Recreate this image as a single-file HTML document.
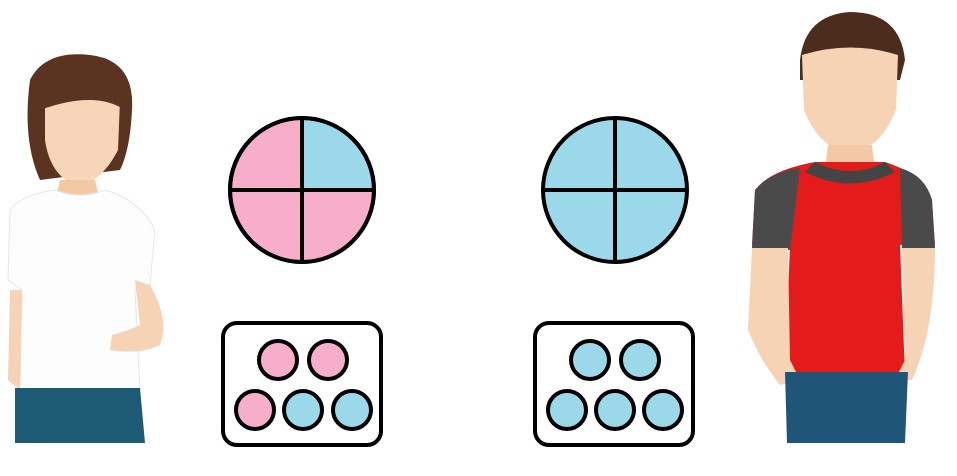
<!DOCTYPE html>
<html><head><meta charset="utf-8"><style>html,body{margin:0;padding:0;background:#fff;overflow:hidden}svg{display:block}</style></head>
<body>
<svg width="957" height="476" viewBox="0 0 957 476" xmlns="http://www.w3.org/2000/svg">
<g>
  <path d="M30 80 Q45 50 90 55 Q135 60 132 110 Q130 150 120 170 L40 180 Q22 140 30 80Z" fill="#5b3321"/>
  <path d="M45 95 Q80 85 120 100 L118 150 Q100 185 75 185 Q50 175 45 140Z" fill="#f7d5b8"/>
  <path d="M30 80 Q60 60 110 70 Q125 90 125 110 Q95 90 40 110Z" fill="#5b3321"/>
  <path d="M60 180 L95 180 L100 200 L55 200Z" fill="#f3c9a5"/>
  <path d="M10 210 Q20 195 55 190 Q80 200 105 190 Q140 200 155 230 L150 285 L135 290 L140 390 L20 392 L22 290 L8 280Z" fill="#fdfdfd" stroke="#e6e6e6"/>
  <path d="M135 280 L150 285 Q170 320 160 345 Q140 355 110 350 L112 335 Q130 330 140 325Z" fill="#f6d3b5"/>
  <path d="M10 290 L22 290 L20 390 L8 380Z" fill="#f6d3b5"/>
  <path d="M15 388 L140 388 L145 443 L15 443Z" fill="#1d5a73"/>
</g>
<g>
  <path d="M800 60 Q805 15 850 12 Q900 12 905 60 L900 80 L800 80Z" fill="#4c2c1c"/>
  <path d="M802 55 Q850 40 898 55 L896 110 Q880 150 850 152 Q820 150 804 110Z" fill="#f6d3b5"/>
  <path d="M828 145 L872 145 L875 170 L825 170Z" fill="#f3c9a5"/>
  <path d="M755 190 Q770 170 815 162 L885 162 Q925 175 932 200 L935 245 L900 245 L905 375 L785 375 L790 245 L752 245Z" fill="#e31b1b"/>
  <path d="M815 162 Q850 180 885 162 L895 172 Q850 195 805 172Z" fill="#444"/>
  <path d="M755 190 Q770 172 800 168 L790 250 L752 248Z" fill="#4a4a4a"/>
  <path d="M900 168 Q925 175 932 200 L935 248 L902 248Z" fill="#4a4a4a"/>
  <path d="M752 248 L788 248 L790 360 L800 380 L780 385 Q760 360 748 330Z" fill="#f6d3b5"/>
  <path d="M902 248 L935 248 Q935 330 912 380 L895 380 L905 360Z" fill="#f6d3b5"/>
  <path d="M785 372 L908 372 L905 443 L787 443Z" fill="#1f5677"/>
</g>
<g stroke="#000" stroke-width="4">
  <path d="M302 190 L302 118 A72 72 0 0 0 230 190Z" fill="#f7aecb"/>
  <path d="M302 190 L374 190 A72 72 0 0 0 302 118Z" fill="#9bd8ea"/>
  <path d="M302 190 L230 190 A72 72 0 0 0 302 262Z" fill="#f7aecb"/>
  <path d="M302 190 L302 262 A72 72 0 0 0 374 190Z" fill="#f7aecb"/>
  <circle cx="302" cy="190" r="72" fill="none"/>
</g>
<g stroke="#000" stroke-width="4">
  <circle cx="615" cy="190" r="72" fill="#9bd8ea"/>
  <line x1="543" y1="190" x2="687" y2="190"/><line x1="615" y1="118" x2="615" y2="262"/>
</g>
<g stroke="#000" stroke-width="4">
  <rect x="223" y="323" width="158" height="122" rx="14" fill="#fff"/>
  <ellipse cx="278" cy="360" rx="19" ry="19" fill="#f7aecb"/>
  <ellipse cx="328" cy="360" rx="19" ry="19" fill="#f7aecb"/>
  <ellipse cx="255" cy="410" rx="19" ry="19" fill="#f7aecb"/>
  <ellipse cx="303" cy="410" rx="19" ry="19" fill="#9bd8ea"/>
  <ellipse cx="352" cy="410" rx="19" ry="19" fill="#9bd8ea"/>
</g>
<g stroke="#000" stroke-width="4">
  <rect x="535" y="323" width="158" height="122" rx="14" fill="#fff"/>
  <ellipse cx="590" cy="360" rx="19" ry="19" fill="#9bd8ea"/>
  <ellipse cx="640" cy="360" rx="19" ry="19" fill="#9bd8ea"/>
  <ellipse cx="567" cy="410" rx="19" ry="19" fill="#9bd8ea"/>
  <ellipse cx="615" cy="410" rx="19" ry="19" fill="#9bd8ea"/>
  <ellipse cx="663" cy="410" rx="19" ry="19" fill="#9bd8ea"/>
</g>
</svg>
</body></html>
